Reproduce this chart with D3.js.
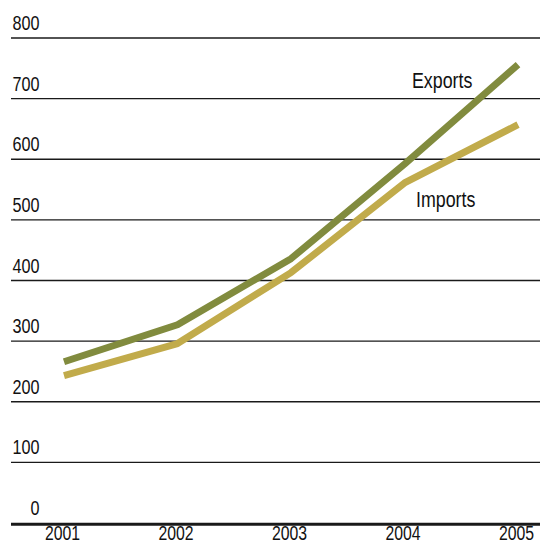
<!DOCTYPE html>
<html>
<head>
<meta charset="utf-8">
<script src="https://cdn.jsdelivr.net/npm/d3@7"></script>
<style>
html,body{margin:0;padding:0;background:#fff;overflow:hidden;}
svg{display:block;}
text{font-family:"Liberation Sans Narrow","Arial Narrow","Liberation Sans",Arial,sans-serif;fill:#111;}
</style>
</head>
<body>
<svg id="chart" width="540" height="545"></svg>
<script>
const years = ["2001","2002","2003","2004","2005"];
const exportsVals = [266, 327, 436, 592, 756];
const importsVals = [243, 296, 413, 561, 657];
const yTicks = [0,100,200,300,400,500,600,700,800];
const seriesNames = ["Exports","Imports"];
const seriesColors = ["#818b3e","#c1ab4b"];

const SX = 0.81; // horizontal condensing
const svg = d3.select("#chart");
const x = d3.scalePoint().domain(years).range([64, 518]);
const y = d3.scaleLinear().domain([0, 800]).range([523, 38]);

// gridlines
svg.append("g").selectAll("line").data(yTicks.filter(d=>d>0)).join("line")
  .attr("x1", 11).attr("x2", 540)
  .attr("y1", d=>y(d)).attr("y2", d=>y(d))
  .attr("stroke", "#1a1a1a").attr("stroke-width", 1.4);

// baseline
svg.append("line").attr("x1", 11).attr("x2", 540)
  .attr("y1", y(0)+1.2).attr("y2", y(0)+1.2)
  .attr("stroke", "#1a1a1a").attr("stroke-width", 3);

// y labels
svg.append("g").selectAll("text").data(yTicks).join("text")
  .attr("transform", d=>`translate(39.5,${y(d)-8}) scale(${SX},1)`)
  .attr("text-anchor","end")
  .attr("font-size", 20)
  .text(d=>d);

// x labels
const xAxis = d3.axisBottom(x).tickSize(0).tickPadding(0);
const gx = svg.append("g").attr("transform", `translate(0,${y(0)})`).call(xAxis);
gx.select(".domain").remove();
gx.selectAll("text")
  .attr("font-size", 19.5).attr("dy", null).attr("y", null)
  .attr("transform", `translate(-2,17) scale(${SX},1)`)
  .attr("font-family", '"Liberation Sans Narrow","Arial Narrow","Liberation Sans",Arial,sans-serif')
  .attr("fill","#111");

// lines
const line = d3.line().x((d,i)=>x(years[i])).y(d=>y(d));
[exportsVals, importsVals].forEach((vals, k) => {
  svg.append("path").datum(vals)
    .attr("d", line)
    .attr("fill","none")
    .attr("stroke", seriesColors[k])
    .attr("stroke-width", 7)
    .attr("stroke-linejoin","round")
    .attr("stroke-linecap","butt");
});

// series labels
svg.append("text").attr("transform", `translate(412,88) scale(${SX},1)`).attr("font-size", 22).text(seriesNames[0]);
svg.append("text").attr("transform", `translate(416,207) scale(${SX},1)`).attr("font-size", 22).text(seriesNames[1]);
</script>
</body>
</html>
